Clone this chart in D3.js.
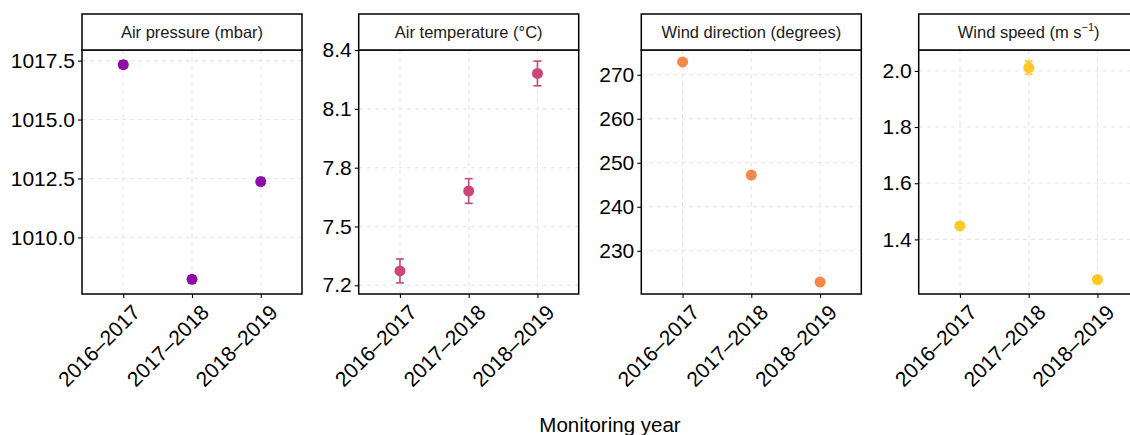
<!DOCTYPE html>
<html>
<head>
<meta charset="utf-8">
<script src="https://cdn.jsdelivr.net/npm/d3@7"></script>
<style>
  html, body { margin: 0; padding: 0; background: #fff; }
  svg { display: block; font-family: "Liberation Sans", Arial, Helvetica, sans-serif; }
</style>
</head>
<body>
<svg id="chart" width="1130" height="435"></svg>
<script>
// Monitoring years (x categories)
const years = ["2016–2017", "2017–2018", "2018–2019"];

// Panel titles
const panelTitles = ["Air pressure (mbar)", "Air temperature (°C)", "Wind direction (degrees)", "Wind speed"];

// Annual means and their standard errors
const pressureMean = [1017.33, 1008.22, 1012.37];
const pressureErr  = [0.15, 0.15, 0.15];
const temperatureMean = [7.273, 7.681, 8.281];
const temperatureErr  = [0.061, 0.063, 0.063];
const directionMean = [272.9, 247.2, 222.9];
const directionErr  = [0.2, 0.2, 0.2];
const speedMean = [1.448, 2.012, 1.257];
const speedErr  = [0.012, 0.023, 0.012];

// Y-axis tick values per panel
const pressureTicks = [1010.0, 1012.5, 1015.0, 1017.5];
const temperatureTicks = [7.2, 7.5, 7.8, 8.1, 8.4];
const directionTicks = [230, 240, 250, 260, 270];
const speedTicks = [1.4, 1.6, 1.8, 2.0];

const panels = [
  { title: panelTitles[0], mean: pressureMean, err: pressureErr, ticks: pressureTicks, fmt: d3.format(".1f"), color: "#8f0da4" },
  { title: panelTitles[1], mean: temperatureMean, err: temperatureErr, ticks: temperatureTicks, fmt: d3.format(".1f"), color: "#cc4778" },
  { title: panelTitles[2], mean: directionMean, err: directionErr, ticks: directionTicks, fmt: d3.format("d"), color: "#f48849" },
  { title: panelTitles[3], mean: speedMean, err: speedErr, ticks: speedTicks, fmt: d3.format(".1f"), color: "#fdc926", unit: true }
];

// Layout
const panelLeft = [82, 358.7, 641.3, 918.7];
const panelW = 220;
const stripTop = 14, plotTop = 50, plotBottom = 294;
const tickFont = "21px";

const svg = d3.select("#chart");

panels.forEach((p, i) => {
  const x0 = panelLeft[i];
  const g = svg.append("g").attr("transform", `translate(${x0},0)`);

  const x = d3.scalePoint().domain(years).range([0, panelW]).padding(0.6);

  const lo = d3.min(p.mean, (d, j) => d - p.err[j]);
  const hi = d3.max(p.mean, (d, j) => d + p.err[j]);
  const pad = (hi - lo) * 0.05;
  const y = d3.scaleLinear().domain([lo - pad, hi + pad]).range([plotBottom, plotTop]);

  // grid lines
  g.append("g").selectAll("line.gy").data(p.ticks).join("line")
    .attr("x1", 0).attr("x2", panelW)
    .attr("y1", d => y(d)).attr("y2", d => y(d))
    .attr("stroke", "#e6e6e6").attr("stroke-width", 1.1).attr("stroke-dasharray", "4,4");
  g.append("g").selectAll("line.gx").data(years).join("line")
    .attr("x1", d => x(d)).attr("x2", d => x(d))
    .attr("y1", plotTop).attr("y2", plotBottom)
    .attr("stroke", "#e6e6e6").attr("stroke-width", 1.1).attr("stroke-dasharray", "4,4");

  // y axis
  const yAxis = d3.axisLeft(y).tickValues(p.ticks).tickFormat(p.fmt).tickSize(4).tickPadding(3);
  const ya = g.append("g").call(yAxis);
  ya.select(".domain").remove();
  ya.selectAll(".tick line").attr("stroke", "#000").attr("stroke-width", 1.1);
  ya.selectAll(".tick text").attr("fill", "#000").style("font-size", tickFont)
    .style("font-family", "'Liberation Sans', Arial, sans-serif");

  // x axis
  const xAxis = d3.axisBottom(x).tickSize(4).tickPadding(2);
  const xa = g.append("g").attr("transform", `translate(0,${plotBottom})`).call(xAxis);
  xa.select(".domain").remove();
  xa.selectAll(".tick line").attr("stroke", "#000").attr("stroke-width", 1.1);
  xa.selectAll(".tick text")
    .attr("fill", "#000")
    .style("font-size", tickFont)
    .style("font-family", "'Liberation Sans', Arial, sans-serif")
    .attr("text-anchor", "end")
    .attr("x", 0).attr("y", 0).attr("dy", "0.72em")
    .attr("transform", "translate(7,9) rotate(-45)");

  // error bars
  const eb = g.append("g").attr("stroke", p.color).attr("stroke-width", 1.6);
  eb.selectAll("line.v").data(p.mean).join("line")
    .attr("x1", (d, j) => x(years[j])).attr("x2", (d, j) => x(years[j]))
    .attr("y1", (d, j) => y(d - p.err[j])).attr("y2", (d, j) => y(d + p.err[j]));
  eb.selectAll("line.top").data(p.mean).join("line")
    .attr("x1", (d, j) => x(years[j]) - 4).attr("x2", (d, j) => x(years[j]) + 4)
    .attr("y1", (d, j) => y(d + p.err[j])).attr("y2", (d, j) => y(d + p.err[j]));
  eb.selectAll("line.bot").data(p.mean).join("line")
    .attr("x1", (d, j) => x(years[j]) - 4).attr("x2", (d, j) => x(years[j]) + 4)
    .attr("y1", (d, j) => y(d - p.err[j])).attr("y2", (d, j) => y(d - p.err[j]));

  // points
  g.append("g").selectAll("circle").data(p.mean).join("circle")
    .attr("cx", (d, j) => x(years[j])).attr("cy", d => y(d))
    .attr("r", 5.5).attr("fill", p.color);

  // panel border
  g.append("rect").attr("x", 0).attr("y", plotTop).attr("width", panelW).attr("height", plotBottom - plotTop)
    .attr("fill", "none").attr("stroke", "#000").attr("stroke-width", 1.5);

  // strip
  g.append("rect").attr("x", 0).attr("y", stripTop).attr("width", panelW).attr("height", plotTop - stripTop)
    .attr("fill", "#fff").attr("stroke", "#000").attr("stroke-width", 1.5);
  const st = g.append("text").attr("x", panelW / 2).attr("y", (stripTop + plotTop) / 2 + 5.5)
    .attr("text-anchor", "middle").style("font-size", "16.5px").attr("fill", "#1a1a1a").text(p.title);
  if (p.unit) {
    st.append("tspan").text(" (m s");
    st.append("tspan").attr("dy", -7).style("font-size", "11px").text("−1");
    st.append("tspan").attr("dy", 7).text(")");
  }
});

// shared x-axis title
svg.append("text").attr("x", 610).attr("y", 432).attr("text-anchor", "middle")
  .style("font-size", "20.5px").attr("fill", "#000").text("Monitoring year");
</script>
</body>
</html>
